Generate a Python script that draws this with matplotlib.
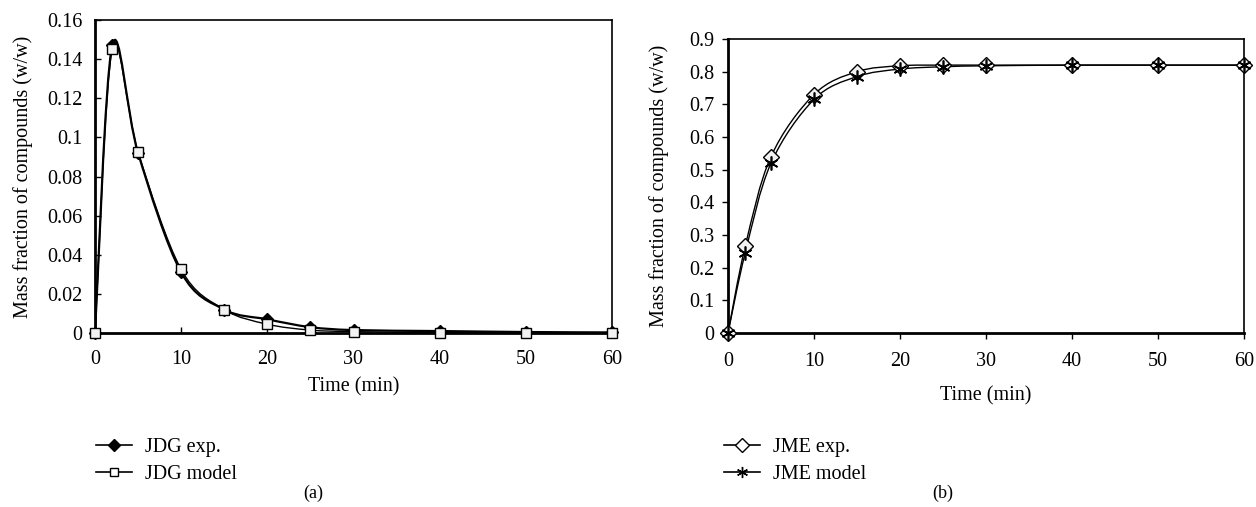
import numpy as np
import matplotlib
matplotlib.use("Agg")
import matplotlib.pyplot as plt
from matplotlib.path import Path
from matplotlib.patches import PathPatch
from matplotlib.lines import Line2D

plt.rcParams['font.family'] = ['Liberation Serif', 'DejaVu Serif']
plt.rcParams['font.size'] = 14.5

time = [0, 2, 5, 10, 15, 20, 25, 30, 40, 50, 60]
jdg_exp = [0, 0.147, 0.092, 0.031, 0.012, 0.007, 0.003, 0.0015, 0.001, 0.0005, 0.0003]
jdg_model = [0, 0.145, 0.0925, 0.0325, 0.012, 0.0045, 0.0015, 0.0007, 0.0002, 0.0001, 0.0]
jme_exp = [0, 0.265, 0.54, 0.73, 0.80, 0.818, 0.82, 0.82, 0.82, 0.82, 0.82]
jme_model = [0, 0.245, 0.52, 0.715, 0.785, 0.808, 0.815, 0.818, 0.82, 0.82, 0.82]


def smooth_line(ax, x, y, **kw):
    # spreadsheet-style smoothed line: cubic bezier through every point
    p = np.column_stack([x, y]).astype(float)
    n = len(p)
    verts = [p[0]]
    codes = [Path.MOVETO]
    for i in range(n - 1):
        p0 = p[i - 1] if i > 0 else p[i]
        p3 = p[i + 2] if i + 2 < n else p[i + 1]
        c1 = p[i] + (p[i + 1] - p0) / 6
        c2 = p[i + 1] - (p3 - p[i]) / 6
        verts += [c1, c2, p[i + 1]]
        codes += [Path.CURVE4] * 3
    ax.add_patch(PathPatch(Path(verts, codes), fill=False, **kw))


fig = plt.figure(figsize=(12.56, 5.07), dpi=100)
ax1 = fig.add_axes([95 / 1256, 1 - 333 / 507, 517 / 1256, 313 / 507])
ax2 = fig.add_axes([728 / 1256, 1 - 333 / 507, 516 / 1256, 294 / 507])

# (a) JDG
smooth_line(ax1, time, jdg_exp, ec='black', lw=1.6, zorder=2)
smooth_line(ax1, time, jdg_model, ec='black', lw=1.0, zorder=2)
ax1.plot(time, jdg_exp, ls='none', marker='D', ms=6, mfc='black', mec='black', zorder=3, clip_on=False)
ax1.plot(time, jdg_model, ls='none', marker='s', ms=7, mfc='#f2f2f2', mec='black', mew=1, zorder=4, clip_on=False)
ax1.set_xlim(0, 60)
ax1.set_ylim(0, 0.16)
ax1.set_xticks(range(0, 61, 10))
ax1.set_yticks(np.arange(0, 0.161, 0.02))
ax1.set_yticklabels(['0', '0.02', '0.04', '0.06', '0.08', '0.1', '0.12', '0.14', '0.16'])
ax1.tick_params(direction='in', length=4, width=1)
ax1.tick_params(axis='x', pad=12)
ax1.tick_params(axis='y', pad=9)
ax1.set_xlabel('Time (min)', labelpad=6)
ax1.set_ylabel('Mass fraction of compounds (w/w)', labelpad=10)

# (b) JME
smooth_line(ax2, time, jme_exp, ec='black', lw=1.0, zorder=2)
smooth_line(ax2, time, jme_model, ec='black', lw=1.0, zorder=2)
ax2.plot(time, jme_exp, ls='none', marker='D', ms=8, mfc='#f2f2f2', mec='black', mew=1, zorder=3, clip_on=False)
ax2.plot(time, jme_model, ls='none', marker=(6, 2, 0), ms=10, mec='black', mew=1.2, zorder=4, clip_on=False)
ax2.set_xlim(0, 60)
ax2.set_ylim(0, 0.9)
ax2.set_xticks(range(0, 61, 10))
ax2.set_yticks(np.arange(0, 0.91, 0.1))
ax2.set_yticklabels(['0', '0.1', '0.2', '0.3', '0.4', '0.5', '0.6', '0.7', '0.8', '0.9'])
ax2.tick_params(direction='out', length=4, width=1)
ax2.tick_params(axis='x', pad=10)
ax2.tick_params(axis='y', pad=6)
ax2.set_xlabel('Time (min)', labelpad=11)
ax2.set_ylabel('Mass fraction of compounds (w/w)', labelpad=14)

for ax in (ax1, ax2):
    for side in ('left', 'bottom'):
        ax.spines[side].set_linewidth(2)
    for side in ('top', 'right'):
        ax.spines[side].set_linewidth(1.2)

legend_kw = dict(loc='upper left', frameon=False, borderpad=0, borderaxespad=0,
                 handlelength=1.8, handletextpad=0.65, labelspacing=0.4, fontsize=14.5)
h1 = [Line2D([], [], color='black', lw=1.2, marker='D', ms=6, mfc='black', mec='black'),
      Line2D([], [], color='black', lw=1.2, marker='s', ms=6, mfc='white', mec='black')]
fig.legend(h1, ['JDG exp.', 'JDG model'], bbox_to_anchor=(96 / 1256, 1 - 438 / 507), **legend_kw)
h2 = [Line2D([], [], color='black', lw=1.2, marker='D', ms=7, mfc='white', mec='black'),
      Line2D([], [], color='black', lw=1.2, marker=(6, 2, 0), ms=8, mec='black')]
fig.legend(h2, ['JME exp.', 'JME model'], bbox_to_anchor=(724 / 1256, 1 - 438 / 507), **legend_kw)

fig.text(313 / 1256, 1 - 493 / 507, '(a)', ha='center', va='center', fontsize=13)
fig.text(943 / 1256, 1 - 493 / 507, '(b)', ha='center', va='center', fontsize=13)

fig.savefig('out.png', dpi=100)
